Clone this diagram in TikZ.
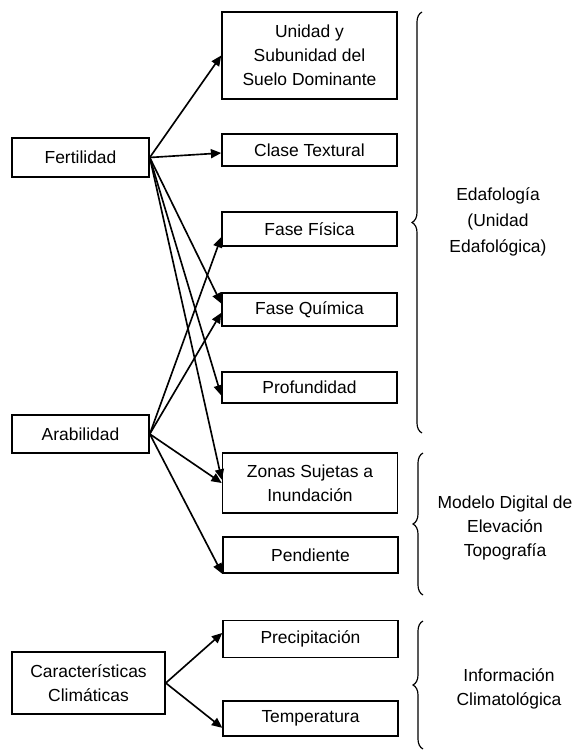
\documentclass[tikz,border=0pt]{standalone}
\usepackage{fontspec}
\setmainfont{Liberation Sans}
\usetikzlibrary{arrows.meta,decorations.pathreplacing}

\begin{document}
\begin{tikzpicture}[x=0.03cm, y=-0.03cm,
    font=\fontsize{14.9}{20.5}\selectfont,
    box/.style={draw, line width=1.3pt, align=center, inner sep=2pt},
    leftbox/.style={box, minimum width=4.11cm},
    rightbox/.style={box, minimum width=5.25cm},
    link/.style={line width=1.4pt, -{Triangle[length=3.1mm, width=2.7mm]}},
    curly/.style={line width=1pt, decorate, decoration={brace, amplitude=0.3cm}}]
    \useasboundingbox (0,0) rectangle (580,750);

    % Factors
    \node[leftbox, minimum height=1.17cm] (fert) at (80.5,157.5) {Fertilidad};
    \node[leftbox, minimum height=1.14cm] (arab) at (80.5,434) {Arabilidad};
    \node[box, minimum width=4.59cm, minimum height=1.86cm] (clima) at (88.5,683) {Características\\Climáticas};

    % Variables
    \node[rightbox, minimum height=2.61cm] (unidad) at (309.5,55.5) {Unidad y\\Subunidad del\\Suelo Dominante};
    \node[rightbox, minimum height=0.96cm] (clase) at (309.5,150) {Clase Textural};
    \node[rightbox, minimum height=1.02cm] (fisica) at (309.5,229) {Fase Física};
    \node[rightbox, minimum height=0.99cm] (quimica) at (309.5,309.5) {Fase Química};
    \node[rightbox, minimum height=0.93cm] (profund) at (309.5,387.5) {Profundidad};
    \node[rightbox, minimum height=1.8cm] (zonas) at (310,483) {Zonas Sujetas a\\Inundación};
    \node[rightbox, minimum height=1.08cm] (pend) at (310.5,555) {Pendiente};
    \node[rightbox, minimum height=1.11cm] (precip) at (310.5,639) {Precipitación};
    \node[rightbox, minimum height=1.05cm] (temp) at (310.5,718.5) {Temperatura};

    % Fertilidad links
    \draw[link] (fert.east) -- (unidad.west);
    \draw[link] (fert.east) -- ([yshift=-0.09cm]clase.west);
    \draw[link] (fert.east) -- ([yshift=0.18cm]quimica.west);
    \draw[link] (fert.east) -- ([yshift=-0.24cm]profund.west);
    \draw[link] (fert.east) -- ([yshift=0.1cm]zonas.west);

    % Arabilidad links
    \draw[link] (arab.east) -- ([yshift=-0.24cm]fisica.west);
    \draw[link] (arab.east) -- ([yshift=-0.1cm]quimica.west);
    \draw[link] (arab.east) -- (zonas.west);
    \draw[link] (arab.east) -- (pend.south west);

    % Climate links
    \draw[link] (clima.east) -- ([yshift=0.18cm]precip.west);
    \draw[link] (clima.east) -- ([yshift=-0.28cm]temp.west);

    % Sources
    \draw[curly] (422,433) -- (422,12);
    \draw[curly] (423,595) -- (423,453);
    \draw[curly] (423,749) -- (423,621);
    \node[align=center, font=\fontsize{14.9}{22}\selectfont] (edaf) at (498,222) {Edafología\\(Unidad\\Edafológica)};
    \node[align=center] (mde) at (505,528) {Modelo Digital de\\Elevación\\Topografía};
    \node[align=center] (inf) at (509,689) {Información\\Climatológica};
\end{tikzpicture}
\end{document}
